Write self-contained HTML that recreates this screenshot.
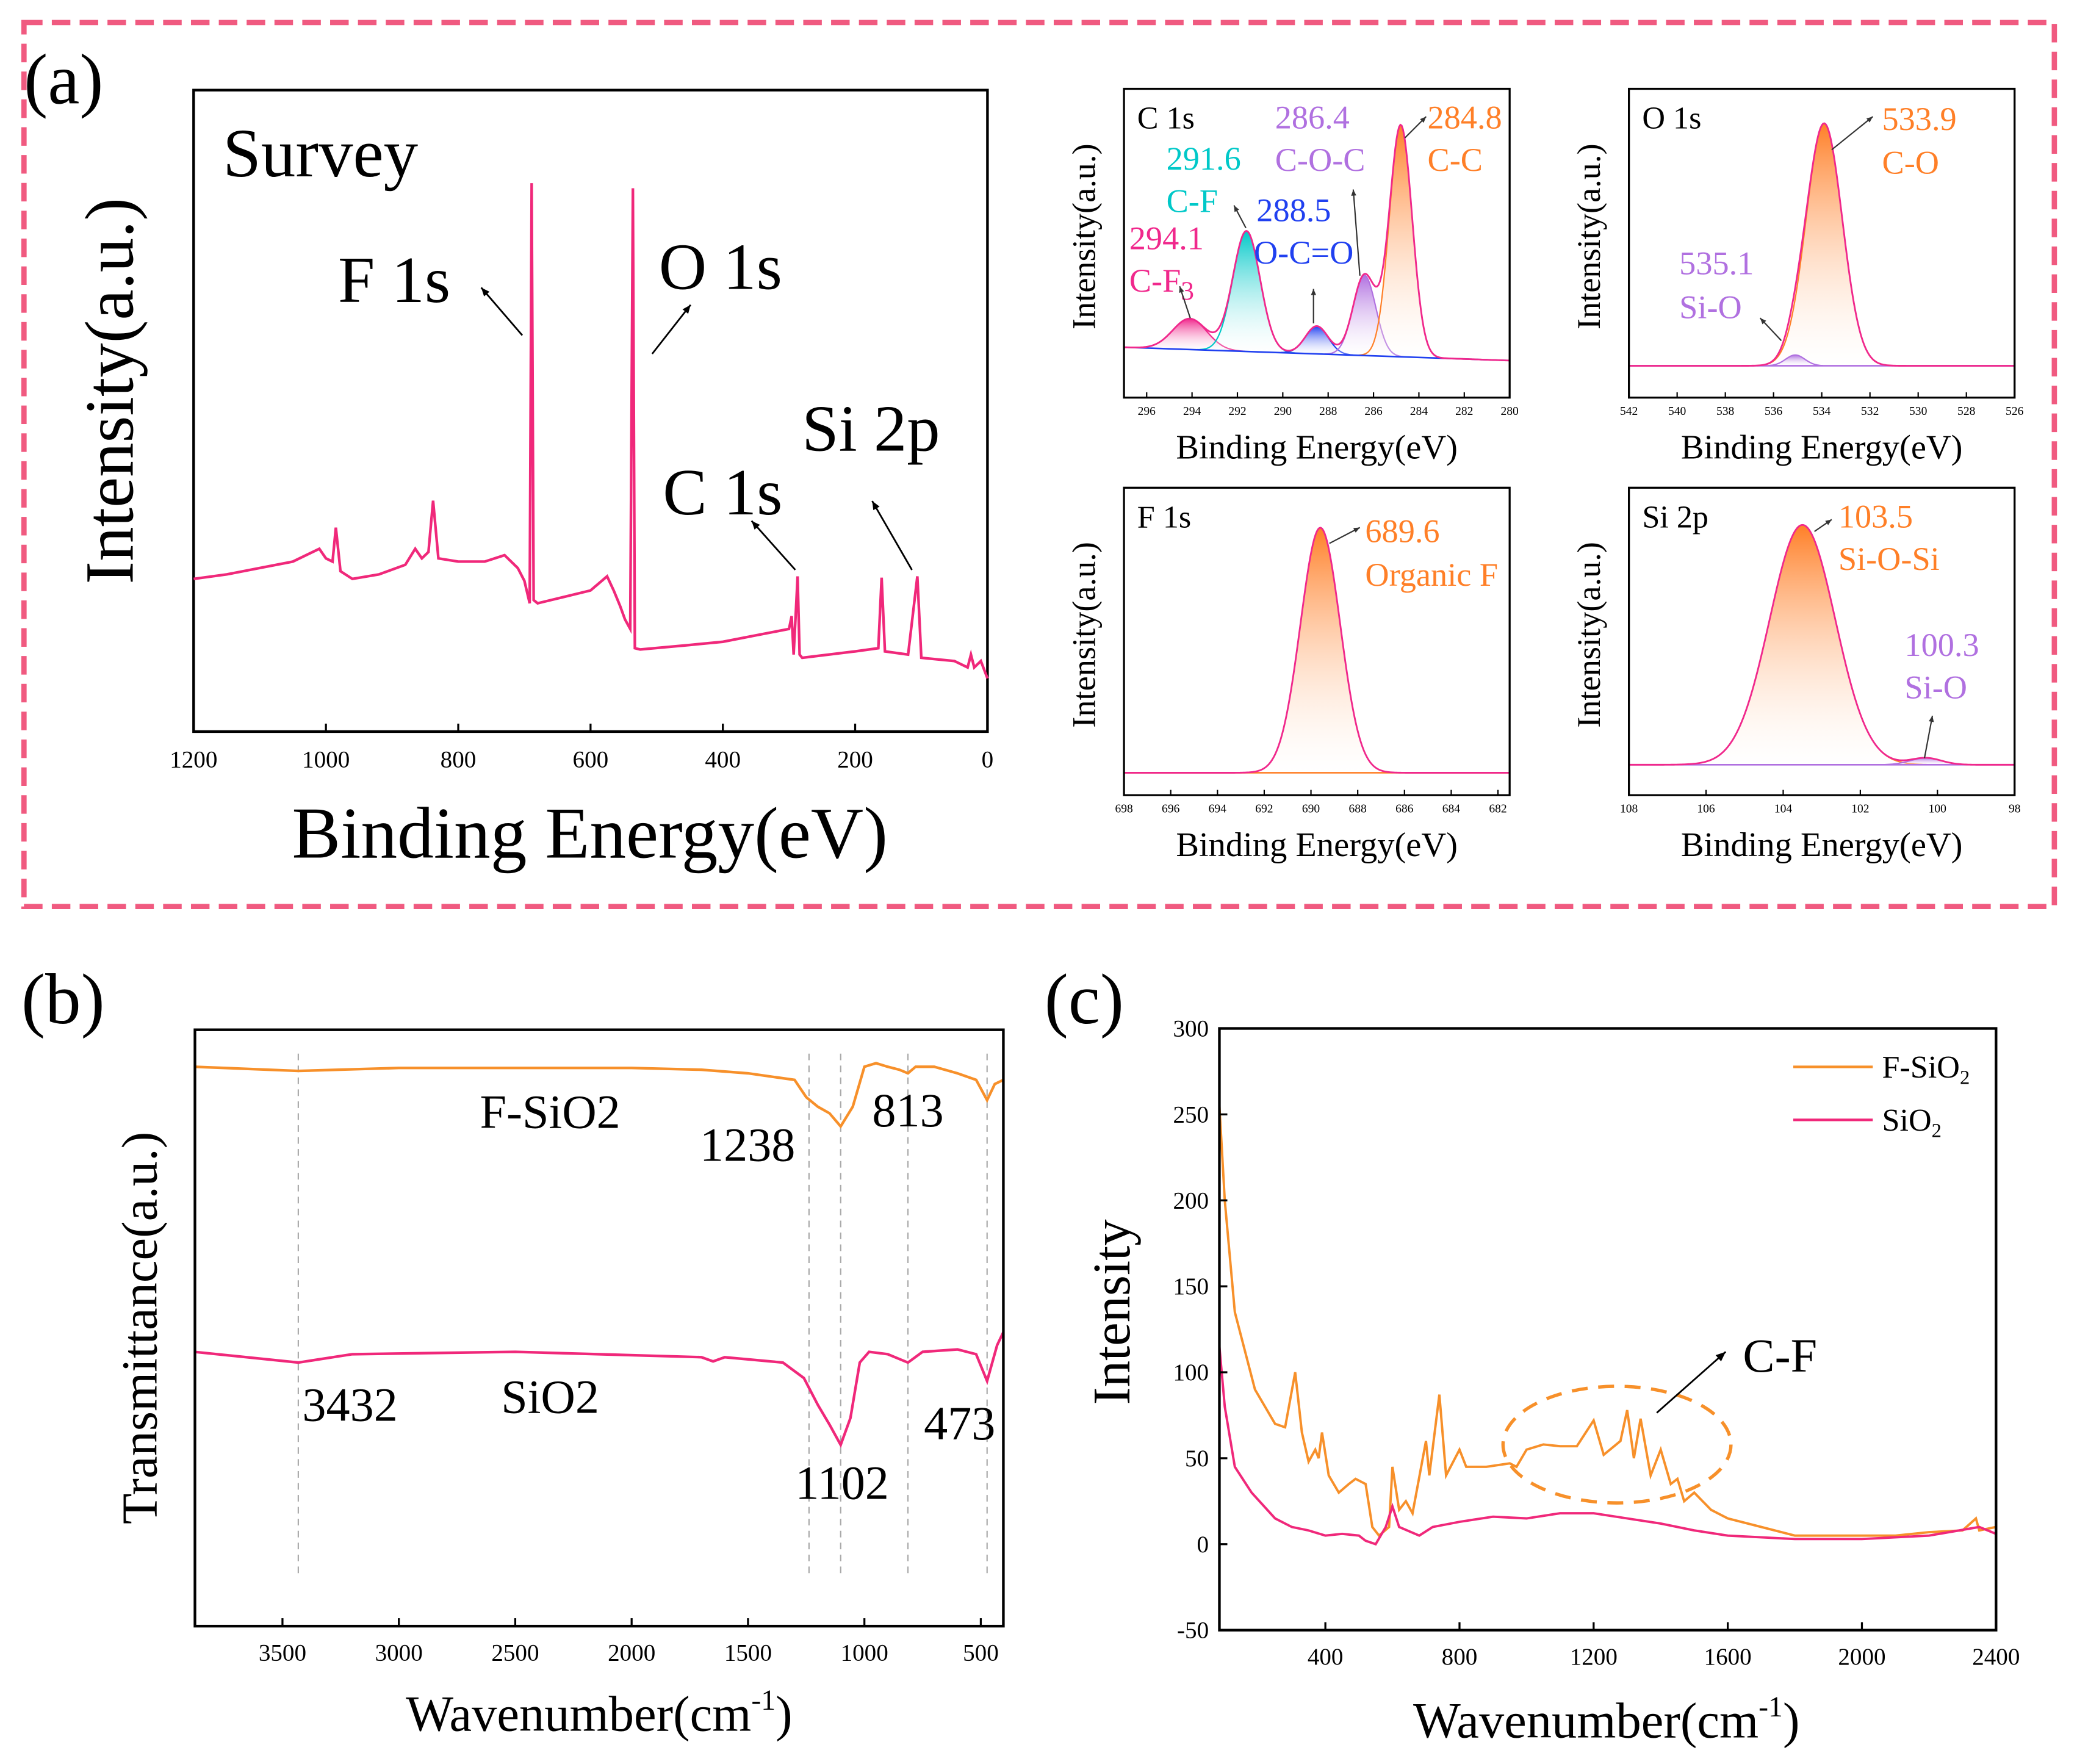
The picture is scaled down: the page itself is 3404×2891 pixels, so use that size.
<!DOCTYPE html>
<html><head><meta charset="utf-8"><style>
html,body{margin:0;padding:0;background:#fff;}
svg{display:block;font-family:"Liberation Serif",serif;}
svg text{font-family:"Liberation Serif",serif;}
</style></head><body>
<svg id="fig" xmlns="http://www.w3.org/2000/svg" width="3404" height="2891" viewBox="0 0 1567 1331" font-family="Liberation Serif, serif">
<defs id="defs"></defs>
<rect x="18" y="17" width="1532" height="667" fill="none" stroke="#f05a80" stroke-width="4" stroke-dasharray="14,7"/>
<text x="18" y="78" font-size="54">(a)</text>
<text x="16" y="772" font-size="54">(b)</text>
<text x="788" y="772" font-size="54">(c)</text>
<g id="survey"></g>
<g id="c1s"></g>
<g id="o1s"></g>
<g id="f1s"></g>
<g id="si2p"></g>
<g id="ftir"></g>
<g id="raman"></g>
</svg>
<script>
// ---------- DATA ----------
const surveyE = [1200,1150,1100,1050,1010,1000,990,985,978,960,920,880,865,855,845,838,830,800,760,730,710,700,692,689,686,680,640,600,575,565,555,548,540,536,533,525,450,400,350,300,296,293,290,287,284,280,200,165,160,155,120,106,100,50,30,25,20,10,0];
const surveyI = [23.8,24.5,25.5,26.5,28.5,27,26.5,31.8,25,23.8,24.5,26,28.5,27,28,36,27,26.5,26.5,27.5,25.5,23.5,20,85.5,20.5,20,21,22,24.2,22,19.5,17.5,16,84.7,13,12.8,13.5,14,15,16,18,12,18,24.2,12,11.5,12.5,13,24,12.5,12,24.2,11.5,11,10,12,10,11,8.3];
const surveyTicks = [1200,1000,800,600,400,200,0];

const c1sCenters = [294.1,291.6,288.5,286.4,284.8];
const c1sHeights = [10,39,9,26,75];
const c1sSigmas = [0.75,0.6,0.5,0.5,0.5];
const c1sBase = [16.3,12.0];
const c1sTicks = [296,294,292,290,288,286,284,282,280];

const o1sCenters = [533.9,535.1];
const o1sHeights = [78.5,3.5];
const o1sSigmas = [0.75,0.4];
const o1sBase = [10.3,10.3];
const o1sTicks = [542,540,538,536,534,532,530,528,526];

const f1sCenters = [689.6];
const f1sHeights = [79.7];
const f1sSigmas = [0.85];
const f1sBase = [7.3,7.3];
const f1sTicks = [698,696,694,692,690,688,686,684,682];

const si2pCenters = [103.5,100.3];
const si2pHeights = [78,2.2];
const si2pSigmas = [0.85,0.4];
const si2pBase = [9.9,9.9];
const si2pTicks = [108,106,104,102,100,98];

const ftirW1 = [3880,3432,3000,2500,2000,1700,1500,1300,1250,1200,1150,1102,1050,1000,950,900,850,813,780,700,600,520,473,440,403];
const ftirT1 = [93.8,93.1,93.6,93.6,93.6,93.3,92.7,91.6,88.7,87.1,86,83.8,87.1,93.8,94.4,93.8,93.3,92.7,93.8,93.8,92.7,91.6,88.2,90.9,91.6];
const ftirW2 = [3880,3432,3200,2500,1700,1650,1600,1350,1260,1200,1150,1102,1060,1020,980,900,813,750,600,520,473,430,403];
const ftirT2 = [46,44.2,45.6,46,45.1,44.4,45.1,44.2,41.6,37.1,33.8,30.4,34.9,44.2,46,45.6,44.2,46,46.4,45.6,41.1,47.1,49.3];
const ftirMarks = [3432,1238,1102,813,473];
const ftirTicks = [3500,3000,2500,2000,1500,1000,500];

const ramanX1 = [84,100,130,150,190,250,280,310,330,350,370,380,390,410,440,470,490,520,540,560,590,600,620,640,660,700,710,740,760,800,820,880,950,970,1000,1050,1100,1150,1200,1230,1280,1300,1320,1340,1370,1400,1430,1450,1470,1500,1550,1600,1700,1800,1900,2000,2100,2200,2300,2340,2350,2400];
const ramanY1 = [255,200,135,120,90,70,68,100,65,48,55,50,65,40,30,35,38,35,10,5,10,45,20,25,18,60,40,87,40,55,45,45,47,45,55,58,57,57,72,52,60,78,50,73,40,55,35,38,25,30,20,15,10,5,5,5,5,7,8,15,8,10];
const ramanX2 = [84,100,130,180,250,300,350,400,450,500,520,550,580,600,620,680,720,800,900,1000,1100,1200,1300,1400,1500,1600,1800,2000,2200,2350,2400];
const ramanY2 = [115,80,45,30,15,10,8,5,6,5,2,0,10,22,10,5,10,13,16,15,18,18,15,12,8,5,3,3,5,10,6];
const ramanYTicks = [300,250,200,150,100,50,0,-50];
const ramanXTicks = [400,800,1200,1600,2000,2400];

// ---------- HELPERS ----------
const NS = "http://www.w3.org/2000/svg";
function el(tag, attrs, parent, txt){
  const e = document.createElementNS(NS, tag);
  for (const k in attrs) e.setAttribute(k, attrs[k]);
  if (txt !== undefined) e.textContent = txt;
  parent.appendChild(e);
  return e;
}
function lin(d0,d1,r0,r1){ return v => r0 + (v-d0)*(r1-r0)/(d1-d0); }
function pathFrom(xs, ys, sx, sy){
  return xs.map((v,i)=>(i?'L':'M')+sx(v).toFixed(2)+','+sy(ys[i]).toFixed(2)).join('');
}
const defs = document.getElementById('defs');
let gradN = 0;
function grad(color){
  const id = 'g'+(gradN++);
  const g = el('linearGradient',{id:id,x1:0,y1:0,x2:0,y2:1},defs);
  el('stop',{offset:'0','stop-color':color,'stop-opacity':'1'},g);
  el('stop',{offset:'1','stop-color':'#ffffff','stop-opacity':'0.2'},g);
  return 'url(#'+id+')';
}
function arrow(g,x1,y1,x2,y2,color,w,hs){
  const ln = el('line',{x1:x1,y1:y1,x2:x2,y2:y2,stroke:color,'stroke-width':w},g);
  
  
  const a = Math.atan2(y2-y1,x2-x1);
  const p1=[x2-hs*Math.cos(a-0.4),y2-hs*Math.sin(a-0.4)], p2=[x2-hs*Math.cos(a+0.4),y2-hs*Math.sin(a+0.4)];
  const h = el('polygon',{points:`${x2},${y2} ${p1[0]},${p1[1]} ${p2[0]},${p2[1]}`,fill:color},g);
  
  
}

// ---------- SURVEY ----------
(function(){
  const g = document.getElementById('survey');
  const L=146,R=745,T=68,B=552;
  const sx = lin(1200,0,L,R), sy = lin(0,100,B,T);
  const frame = el('rect',{x:L,y:T,width:R-L,height:B-T,fill:'none',stroke:'#000','stroke-width':2},g);
  
  
  surveyTicks.forEach(t=>{
    const tl = el('line',{x1:sx(t),x2:sx(t),y1:B,y2:B-6,stroke:'#000','stroke-width':1.5},g);
    
    
    const tx = el('text',{x:sx(t),y:579,'font-size':18,'text-anchor':'middle'},g,String(t));
    
    
  });
  const p = el('path',{d:pathFrom(surveyE,surveyI,sx,sy),fill:'none',stroke:'#f0287a','stroke-width':2},g);
  
  
  const xl = el('text',{x:445,y:647,'font-size':55,'text-anchor':'middle'},g,'Binding Energy(eV)');
  
  
  const yl = el('text',{x:0,y:0,'font-size':52,'text-anchor':'middle',transform:'translate(100,295) rotate(-90)'},g,'Intensity(a.u.)');
  
  
  const labels = [['Survey',168,133,52],['F 1s',255,228,50],['O 1s',497,218,50],['Si 2p',605,340,50],['C 1s',500,388,50]];
  labels.forEach(a=>{
    const t = el('text',{x:a[1],y:a[2],'font-size':a[3]},g,a[0]);
    
    
  });
  const arrows = [[394,253,363,217],[492,267,521,230],[688,430,658,378],[600,430,567,393]];
  arrows.forEach(a=>arrow(g,a[0],a[1],a[2],a[3],'#000',1.3,7));
})();

// ---------- XPS PANELS ----------
function xps(id, box, dom, centers, heights, sigmas, base, colors, ticks, title, baseColor, envColor){
  const g = document.getElementById(id);
  const [L,T,R,B] = box;
  const sx = lin(dom[0],dom[1],L,R), sy = lin(0,100,B,T);
  const bl = e => base[0] + (e-dom[0])*(base[1]-base[0])/(dom[1]-dom[0]);
  const N = 300, es=[];
  for (let i=0;i<=N;i++) es.push(dom[0]+(dom[1]-dom[0])*i/N);
  const gauss = (k,e)=> heights[k]*Math.exp(-0.5*Math.pow((e-centers[k])/sigmas[k],2));
  centers.forEach((c,k)=>{
    const pts = es.filter(e=>gauss(k,e)>0.05);
    const top = pts.map(e=>[sx(e),sy(bl(e)+gauss(k,e))]);
    const bot = pts.slice().reverse().map(e=>[sx(e),sy(bl(e))]);
    const d = 'M'+top.concat(bot).map(p=>p[0].toFixed(2)+','+p[1].toFixed(2)).join('L')+'Z';
    const f = el('path',{d:d,fill:grad(colors[k]),stroke:'none'},g);
    
    
    const o = el('path',{d:'M'+top.map(p=>p[0].toFixed(2)+','+p[1].toFixed(2)).join('L'),fill:'none',stroke:colors[k],'stroke-width':1},g);
    
    
  });
  const bp = el('path',{d:'M'+sx(dom[0])+','+sy(base[0])+'L'+sx(dom[1])+','+sy(base[1]),stroke:baseColor,'stroke-width':1.2,fill:'none'},g);
  
  
  const env = es.map(e=>{let s=bl(e);centers.forEach((c,k)=>s+=gauss(k,e));return s;});
  const ep = el('path',{d:pathFrom(es,env,sx,sy),fill:'none',stroke:envColor,'stroke-width':1.3},g);
  
  
  const fr = el('rect',{x:L,y:T,width:R-L,height:B-T,fill:'none',stroke:'#000','stroke-width':1.5},g);
  
  
  ticks.forEach(t=>{
    const tl = el('line',{x1:sx(t),x2:sx(t),y1:B,y2:B-4,stroke:'#000','stroke-width':1},g);
    
    
    const tx = el('text',{x:sx(t),y:B+13,'font-size':9,'text-anchor':'middle'},g,String(t));
    
    
  });
  const xt = el('text',{x:(L+R)/2,y:B+46,'font-size':26,'text-anchor':'middle'},g,'Binding Energy(eV)');
  
  
  const yt = el('text',{x:0,y:0,'font-size':25,'text-anchor':'middle',transform:`translate(${L-22},${(T+B)/2-5}) rotate(-90)`},g,'Intensity(a.u.)');
  
  
  const tt = el('text',{x:L+10,y:T+30,'font-size':24},g,title);
  
  
  return g;
}
function lbl(g,x,y,s,c,size){
  const t = el('text',{x:x,y:y,'font-size':size||25,fill:c},g,s);
  
  
  return t;
}
const OR='#ff7f27', PU='#b070e0', PK='#f0288c', CY='#00c8c8', BL='#2040f0';
let g;
g = xps('c1s',[848,67,1139,300],[297,280],c1sCenters,c1sHeights,c1sSigmas,c1sBase,[PK,CY,BL,PU,OR],c1sTicks,'C 1s',BL,PK);
lbl(g,880,128,'291.6',CY);lbl(g,880,160,'C-F',CY);lbl(g,852,188,'294.1',PK);
const cf3 = lbl(g,852,220,'C-F',PK); el('tspan',{'font-size':20,dy:6},cf3,'3');
lbl(g,948,167,'288.5',BL);lbl(g,946,199,'O-C=O',BL);
lbl(g,962,97,'286.4',PU);lbl(g,962,129,'C-O-C',PU);lbl(g,1077,97,'284.8',OR);lbl(g,1077,129,'C-C',OR);
arrow(g,898,240,890,216,'#333',1,5);arrow(g,940,172,931,155,'#333',1,5);arrow(g,991,244,991,218,'#333',1,5);
arrow(g,1026,208,1021,143,'#333',1,5);arrow(g,1060,104,1076,88,'#333',1,5);
g = xps('o1s',[1229,67,1520,300],[542,526],o1sCenters,o1sHeights,o1sSigmas,o1sBase,[OR,PU],o1sTicks,'O 1s',PU,PK);
lbl(g,1420,98,'533.9',OR);lbl(g,1420,131,'C-O',OR);lbl(g,1267,207,'535.1',PU);lbl(g,1267,240,'Si-O',PU);
arrow(g,1382,113,1413,88,'#333',1,5);arrow(g,1344,257,1328,240,'#333',1,5);
g = xps('f1s',[848,368,1139,600],[698,681.5],f1sCenters,f1sHeights,f1sSigmas,f1sBase,[OR],f1sTicks,'F 1s',OR,PK);
lbl(g,1030,409,'689.6',OR);lbl(g,1030,442,'Organic F',OR);arrow(g,1003,410,1026,398,'#333',1,5);
g = xps('si2p',[1229,368,1520,600],[108,98],si2pCenters,si2pHeights,si2pSigmas,si2pBase,[OR,PU],si2pTicks,'Si 2p',PU,PK);
lbl(g,1387,398,'103.5',OR);lbl(g,1387,430,'Si-O-Si',OR);lbl(g,1437,495,'100.3',PU);lbl(g,1437,527,'Si-O',PU);
arrow(g,1369,401,1382,392,'#333',1,5);arrow(g,1452,572,1458,540,'#333',1,5);

// ---------- FTIR ----------
(function(){
  const g = document.getElementById('ftir');
  const L=147,R=757,T=777,B=1227;
  const sx = lin(3876,403,L,R), sy = lin(0,100,B,T);
  ftirMarks.forEach(m=>{
    const l = el('line',{x1:sx(m),x2:sx(m),y1:795,y2:1188,stroke:'#aaa','stroke-width':1,'stroke-dasharray':'5,4'},g);
    
    
  });
  const p1 = el('path',{d:pathFrom(ftirW1,ftirT1,sx,sy),fill:'none',stroke:'#f7902a','stroke-width':2},g);
  
  
  const p2 = el('path',{d:pathFrom(ftirW2,ftirT2,sx,sy),fill:'none',stroke:'#f0287a','stroke-width':2},g);
  
  
  const fr = el('rect',{x:L,y:T,width:R-L,height:B-T,fill:'none',stroke:'#000','stroke-width':2},g);
  
  
  ftirTicks.forEach(t=>{
    const tl = el('line',{x1:sx(t),x2:sx(t),y1:B,y2:B-6,stroke:'#000','stroke-width':1.5},g);
    
    
    const tx = el('text',{x:sx(t),y:1253,'font-size':18,'text-anchor':'middle'},g,String(t));
    
    
  });
  const txts = [['1238',528,876],['813',658,850],['3432',228,1072],['1102',600,1131],['473',697,1086]];
  txts.forEach(a=>{
    const t = el('text',{x:a[1],y:a[2],'font-size':36},g,a[0]);
    
    
  });
  const n1 = el('text',{x:362,y:851,'font-size':36},g,'F-SiO2');
  
  
  const n2 = el('text',{x:378,y:1066,'font-size':36},g,'SiO2');
  
  
  const xt = el('text',{x:452,y:1306,'font-size':38,'text-anchor':'middle'},g,'Wavenumber(cm');
  el('tspan',{'font-size':22,dy:-16},xt,'-1');
  el('tspan',{'font-size':38,dy:16},xt,')');
  
  
  const yt = el('text',{x:0,y:0,'font-size':38,'text-anchor':'middle',transform:'translate(118,1002) rotate(-90)'},g,'Transmittance(a.u.)');
  
  
})();

// ---------- RAMAN ----------
(function(){
  const g = document.getElementById('raman');
  const L=920,R=1506,T=776,B=1230;
  const sx = lin(84,2400,L,R), sy = lin(-50,300,B,T);
  const p1 = el('path',{d:pathFrom(ramanX1,ramanY1,sx,sy),fill:'none',stroke:'#f7902a','stroke-width':1.8},g);
  
  
  const p2 = el('path',{d:pathFrom(ramanX2,ramanY2,sx,sy),fill:'none',stroke:'#f0287a','stroke-width':1.8},g);
  
  
  const fr = el('rect',{x:L,y:T,width:R-L,height:B-T,fill:'none',stroke:'#000','stroke-width':2},g);
  
  
  ramanYTicks.forEach(t=>{
    const tl = el('line',{x1:L,x2:L+6,y1:sy(t),y2:sy(t),stroke:'#000','stroke-width':1.5},g);
    
    
    const tx = el('text',{x:L-8,y:sy(t)+6,'font-size':18,'text-anchor':'end'},g,String(t));
    
    
  });
  ramanXTicks.forEach(t=>{
    const tl = el('line',{x1:sx(t),x2:sx(t),y1:B,y2:B-6,stroke:'#000','stroke-width':1.5},g);
    
    
    const tx = el('text',{x:sx(t),y:1256,'font-size':18,'text-anchor':'middle'},g,String(t));
    
    
  });
  const e = el('ellipse',{cx:1220,cy:1090,rx:86,ry:44,fill:'none',stroke:'#f7902a','stroke-width':2.5,'stroke-dasharray':'12,8'},g);
  
  
  arrow(g,1250,1066,1302,1020,'#000',1.3,8);
  const cf = el('text',{x:1315,y:1035,'font-size':36},g,'C-F');
  
  
  [['F-SiO',805,'#f7902a'],['SiO',845,'#f0287a']].forEach(a=>{
    const l = el('line',{x1:1353,x2:1413,y1:a[1],y2:a[1],stroke:a[2],'stroke-width':2},g);
    
    
    const t = el('text',{x:1420,y:a[1]+8,'font-size':24},g,a[0]);
    el('tspan',{'font-size':15,dy:5},t,'2');
    
    
  });
  const xt = el('text',{x:1212,y:1311,'font-size':38,'text-anchor':'middle'},g,'Wavenumber(cm');
  el('tspan',{'font-size':22,dy:-16},xt,'-1');
  el('tspan',{'font-size':38,dy:16},xt,')');
  
  
  const yt = el('text',{x:0,y:0,'font-size':40,'text-anchor':'middle',transform:'translate(852,990) rotate(-90)'},g,'Intensity');
  
  
})();
</script>
</body></html>
